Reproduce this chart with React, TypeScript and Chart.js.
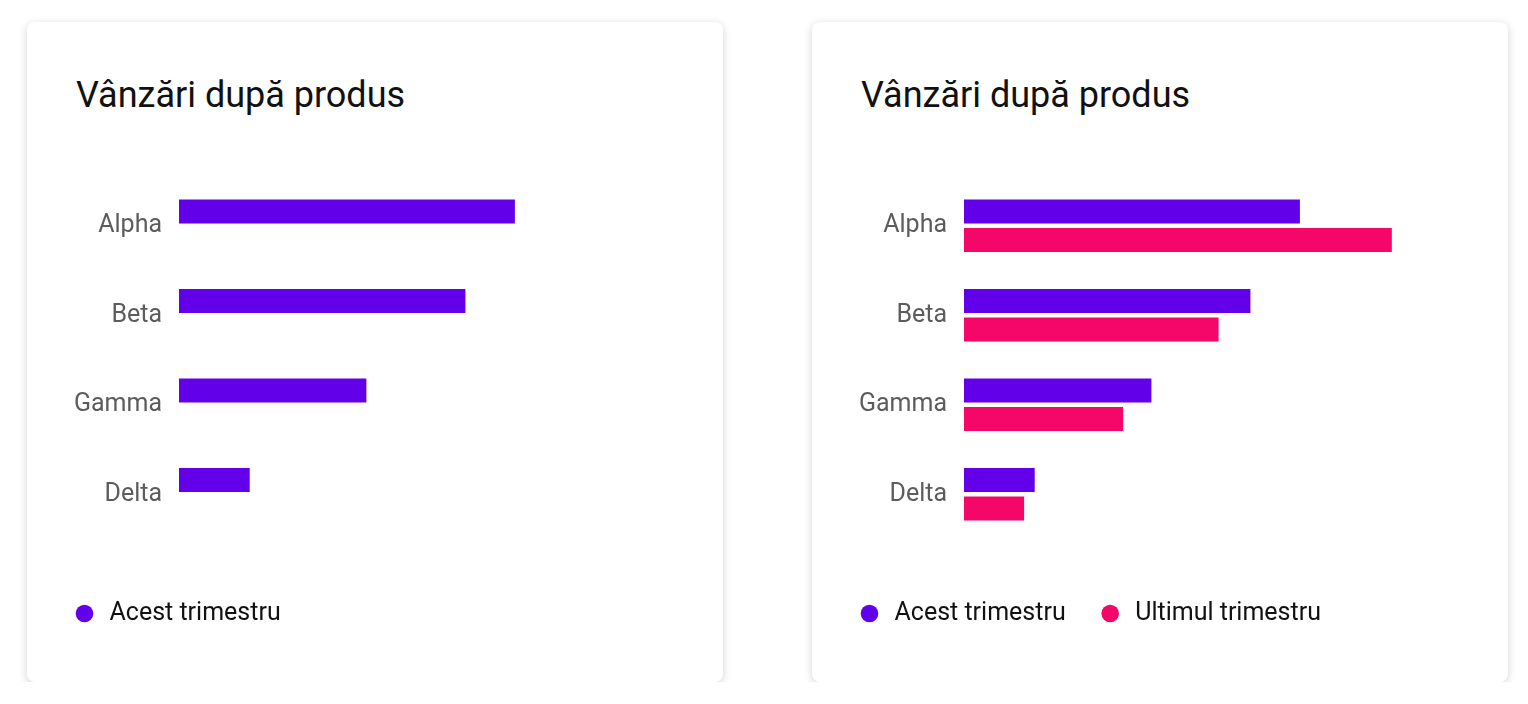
import React, { useEffect, useRef } from "react";
import { Chart, registerables } from "chart.js";

Chart.register(...registerables);

const categories = ["Alpha", "Beta", "Gamma", "Delta"];
const thisQuarter = [95, 81, 53, 20];
const lastQuarter = [121, 72, 45, 17];
const emptySeries = [null, null, null, null];
const seriesLabels = ["Acest trimestru", "Ultimul trimestru"];
const titleText = "Vânzări după produs";
const xMax = 140;

const PURPLE = "#6200EA";
const PINK = "#F5076A";
const FONT = "Roboto, 'Noto Sans', sans-serif";

function BarChart({ showLast }: { showLast: boolean }) {
  const ref = useRef<HTMLCanvasElement | null>(null);
  useEffect(() => {
    if (!ref.current) return;
    const chart = new Chart(ref.current, {
      type: "bar",
      data: {
        labels: categories,
        datasets: [
          {
            label: seriesLabels[0],
            data: thisQuarter,
            backgroundColor: PURPLE,
            borderWidth: 0,
            categoryPercentage: 0.634,
            barPercentage: 0.85,
          },
          {
            label: seriesLabels[1],
            data: showLast ? lastQuarter : (emptySeries as any),
            backgroundColor: PINK,
            borderWidth: 0,
            categoryPercentage: 0.634,
            barPercentage: 0.85,
          },
        ],
      },
      options: {
        indexAxis: "y",
        animation: false,
        responsive: false,
        maintainAspectRatio: false,
        layout: { padding: { top: 10, left: 0, right: 0, bottom: 0 } },
        scales: {
          x: {
            min: 0,
            max: xMax,
            display: true,
            grid: { display: false, drawTicks: false },
            border: { display: false },
            ticks: { display: false },
            afterFit: (scale: any) => {
              scale.height = 30;
              scale.paddingLeft = 0;
              scale.paddingRight = 0;
            },
          },
          y: {
            grid: { display: false, drawTicks: false },
            border: { display: false },
            ticks: {
              color: "#5c5c5c",
              padding: 17,
              font: { family: FONT, size: 25 },
            },
            afterFit: (scale: any) => {
              scale.width = 139;
              scale.paddingTop = 0;
              scale.paddingBottom = 0;
            },
          },
        },
        plugins: {
          tooltip: { enabled: false },
          legend: {
            display: true,
            position: "bottom",
            align: "start",
            labels: {
              usePointStyle: true,
              pointStyle: "circle",
              boxWidth: 25,
              boxHeight: 12.45,
              padding: 32,
              color: "#111111",
              font: { family: FONT, size: 25 },
              filter: (item: any) => showLast || item.datasetIndex === 0,
            },
          },
        },
      },
    });
    return () => chart.destroy();
  }, [showLast]);
  return (
    <canvas
      ref={ref}
      width={634}
      height={465}
      style={{ position: "absolute", left: 13, top: 149, width: 634, height: 465 }}
    />
  );
}

function Card({ showLast }: { showLast: boolean }) {
  return (
    <div
      style={{
        position: "relative",
        width: 696,
        height: 660,
        background: "#ffffff",
        borderRadius: 8,
        boxShadow: "0 2px 8px rgba(0,0,0,0.18)",
        flex: "0 0 auto",
      }}
    >
      <div
        style={{
          position: "absolute",
          left: 49,
          top: 51.7,
          fontFamily: FONT,
          fontSize: 36,
          lineHeight: "42px",
          color: "#111111",
          whiteSpace: "nowrap",
        }}
      >
        {titleText}
      </div>
      <BarChart showLast={showLast} />
    </div>
  );
}

export default function App() {
  return (
    <div
      style={{
        display: "flex",
        gap: 89,
        paddingLeft: 19,
        paddingTop: 14,
        background: "#ffffff",
      }}
    >
      <Card showLast={false} />
      <Card showLast={true} />
    </div>
  );
}
